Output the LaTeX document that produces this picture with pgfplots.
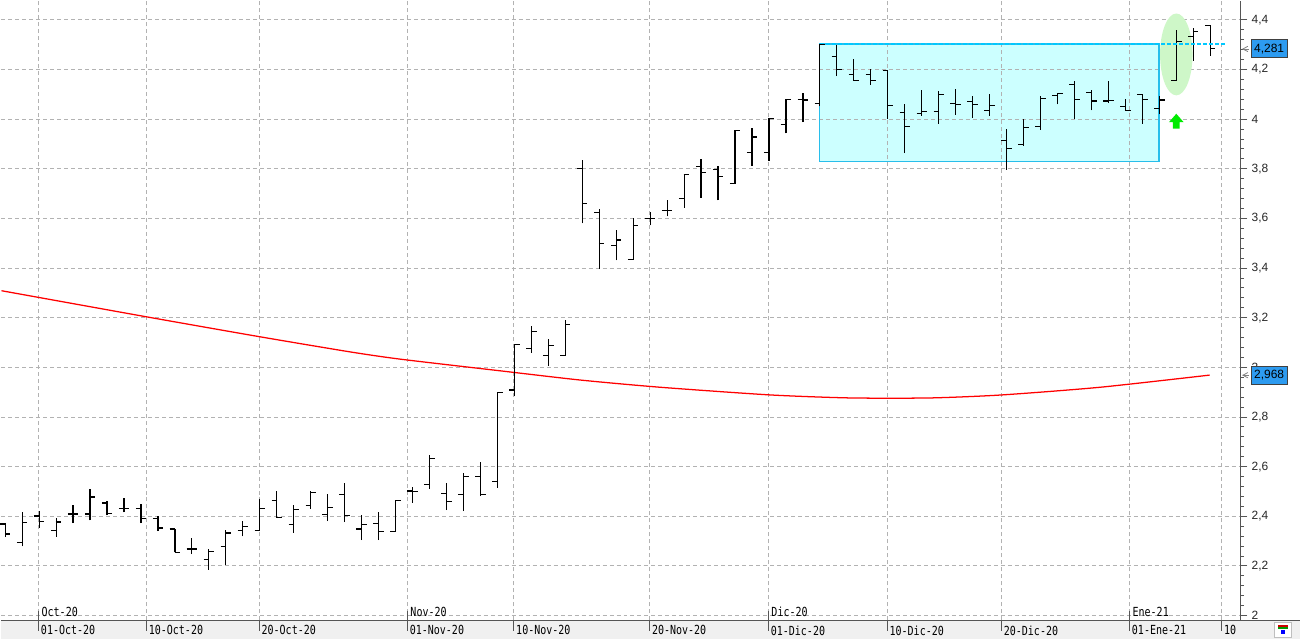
\documentclass[border=0pt]{standalone}
\usepackage{pgfplots}
\pgfplotsset{compat=1.18}
\usepackage{pgfplotstable}
\usepackage{fontspec}
\setmainfont{Liberation Sans}
\newfontfamily\lblfont[FakeStretch=0.8]{DejaVu Sans Mono}
\definecolor{gridc}{RGB}{178,178,178}
\definecolor{rectfill}{RGB}{204,255,255}
\definecolor{rectedge}{RGB}{40,190,235}
\definecolor{cyanline}{RGB}{0,200,255}
\definecolor{ellfill}{RGB}{206,247,200}
\definecolor{arrowgreen}{RGB}{0,235,0}
\definecolor{boxblue}{RGB}{45,155,240}
\definecolor{bandgray}{RGB}{240,240,240}
\definecolor{axisgray}{RGB}{85,85,85}
\pgfdeclareplotmark{otick}{\pgfpathmoveto{\pgfpoint{-3.9pt}{0pt}}\pgfpathlineto{\pgfpoint{0.3pt}{0pt}}\pgfusepathqstroke}
\pgfdeclareplotmark{ctick}{\pgfpathmoveto{\pgfpoint{-0.3pt}{0pt}}\pgfpathlineto{\pgfpoint{3.9pt}{0pt}}\pgfusepathqstroke}
\pgfplotstableread{
i O H L C
0 2.369 2.372 2.316 2.329
1 2.293 2.417 2.279 2.376
2 2.401 2.423 2.353 2.379
3 2.342 2.393 2.317 2.377
4 2.409 2.446 2.373 2.409
5 2.409 2.510 2.384 2.478
6 2.454 2.460 2.404 2.413
7 2.431 2.474 2.416 2.431
8 2.431 2.451 2.373 2.391
9 2.391 2.400 2.340 2.353
10 2.349 2.349 2.255 2.255
11 2.268 2.313 2.248 2.268
12 2.226 2.268 2.185 2.258
13 2.277 2.346 2.205 2.333
14 2.342 2.383 2.319 2.360
15 2.343 2.471 2.343 2.430
16 2.464 2.504 2.394 2.394
17 2.366 2.444 2.333 2.426
18 2.444 2.502 2.430 2.496
19 2.408 2.489 2.381 2.435
20 2.487 2.535 2.377 2.403
21 2.349 2.407 2.304 2.366
22 2.370 2.417 2.304 2.339
23 2.339 2.464 2.339 2.464
24 2.502 2.519 2.455 2.499
25 2.529 2.646 2.511 2.632
26 2.492 2.533 2.425 2.459
27 2.488 2.573 2.421 2.560
28 2.560 2.620 2.481 2.488
29 2.540 2.900 2.516 2.900
30 2.909 3.093 2.883 3.093
31 3.076 3.165 3.059 3.144
32 3.049 3.116 3.005 3.089
33 3.049 3.193 3.049 3.172
34 3.800 3.837 3.580 3.661
35 3.625 3.640 3.396 3.499
36 3.492 3.553 3.431 3.513
37 3.436 3.600 3.433 3.572
38 3.600 3.625 3.572 3.600
39 3.632 3.676 3.609 3.632
40 3.680 3.776 3.643 3.776
41 3.809 3.840 3.683 3.784
42 3.796 3.813 3.673 3.768
43 3.740 3.956 3.740 3.956
44 3.865 3.964 3.813 3.928
45 3.865 4.004 3.833 4.004
46 3.980 4.080 3.943 4.080
47 4.080 4.104 3.988 4.077
48 4.064 4.303 4.052 4.300
49 4.254 4.298 4.174 4.200
50 4.181 4.242 4.156 4.156
51 4.181 4.201 4.139 4.156
52 4.197 4.197 4.002 4.055
53 4.028 4.060 3.863 3.970
54 4.022 4.116 4.013 4.032
55 4.032 4.112 3.982 4.099
56 4.063 4.121 4.017 4.059
57 4.072 4.092 4.005 4.059
58 4.036 4.100 4.013 4.055
59 3.914 3.959 3.796 3.881
60 3.897 3.999 3.893 3.966
61 3.971 4.095 3.958 4.083
62 4.095 4.106 4.060 4.103
63 4.140 4.153 4.001 4.079
64 4.107 4.119 4.036 4.073
65 4.073 4.153 4.067 4.075
66 4.050 4.081 4.036 4.036
67 4.099 4.099 3.981 4.079
68 4.043 4.094 4.020 4.077
69 4.156 4.361 4.156 4.313
70 4.334 4.369 4.235 4.354
71 4.378 4.378 4.256 4.285
}\ohlc
\begin{document}
\begin{tikzpicture}[x=0.75pt,y=0.75pt]
\begin{axis}[
  set layers,
  clip=false,
  scale only axis,
  width=930.975pt, height=465.525pt,
  xmin=-0.2176, xmax=72.8, ymin=1.9811, ymax=4.4779,
  axis line style={draw=none},
  grid=major,
  major grid style={gridc, line width=0.75pt, dash pattern=on 3pt off 2.25pt},
  xtick={1.976,8.329,14.976,23.706,29.976,37.976,44.976,51.976,58.706,66.253,71.682},
  xticklabels={01-Oct-20,10-Oct-20,20-Oct-20,01-Nov-20,10-Nov-20,20-Nov-20,01-Dic-20,10-Dic-20,20-Dic-20,01-Ene-21,10},
  xtick pos=bottom,
  xtick style={draw=none},
  xticklabel style={font=\lblfont\fontsize{9.4pt}{10pt}\selectfont, anchor=north west, inner sep=0pt, xshift=1.5pt, yshift=1.25pt, text=black},
  ytick={2,2.2,2.4,2.6,2.8,3,3.2,3.4,3.6,3.8,4,4.2,4.4},
  minor y tick num=4,
  ytick pos=right, yticklabel pos=right,
  tick align=outside,
  major tick length=5pt, minor tick length=2.5pt,
  y tick style={axisgray, line width=0.75pt},
  minor y tick style={axisgray, line width=0.75pt},
  yticklabel style={/pgf/number format/use comma, /pgf/number format/fixed, /pgf/number format/assume math mode=true, font=\fontsize{9pt}{10pt}\selectfont, anchor=west, inner sep=0pt, xshift=3pt, text=black!85},
]
\begin{pgfonlayer}{axis background}
\fill[bandgray] ([yshift=-13.725pt]rel axis cs:0,0) rectangle ([xshift=44.775pt]rel axis cs:1,0);
\fill[rectfill] (axis cs:47.98,3.830) rectangle (axis cs:67.98,4.303);
\end{pgfonlayer}
\begin{pgfonlayer}{pre main}
\fill[ellfill] (axis cs:69.0,4.261) ellipse [x radius=12.2pt, y radius=30.75pt];
\end{pgfonlayer}
\draw[rectedge, line width=0.8pt] (axis cs:47.98,3.830) rectangle (axis cs:67.98,4.303);
% moving average
\addplot[red, line width=0.95pt, smooth, tension=0.4] coordinates {
(-0.218,3.309) (8.31,3.204) (14.96,3.124) (20.37,3.062) (23.31,3.033) (29.2,2.986) (33.9,2.949) (38.6,2.920) (45.1,2.889) (49.8,2.877) (54.5,2.877) (58.7,2.889) (64.5,2.920) (70.96,2.969)};
% OHLC bars: high-low range
\addplot[draw=none, mark=none, error bars/.cd, y dir=plus, y explicit, error mark=none, error bar style={draw=black, solid, line width=0.9pt}]
  table[x=i, y=L, y error expr=\thisrow{H}-\thisrow{L}] {\ohlc};
% open and close ticks
\addplot[black, only marks, mark=otick, mark options={black, solid, line width=0.9pt}] table[x=i, y=O] {\ohlc};
\addplot[black, only marks, mark=ctick, mark options={black, solid, line width=0.9pt}] table[x=i, y=C] {\ohlc};
% resistance line
\draw[cyanline, line width=1.5pt, dash pattern=on 3pt off 1.5pt] (axis cs:47.98,4.303) -- (axis cs:71.84,4.303);
% green arrow
\fill[arrowgreen] ([xshift=-5.5pt]axis cs:69,3.988) -- (axis cs:69,4.022) -- ([xshift=5.5pt]axis cs:69,3.988) -- ([xshift=2.5pt]axis cs:69,3.988) -- ([xshift=2.5pt]axis cs:69,3.962) -- ([xshift=-2.5pt]axis cs:69,3.962) -- ([xshift=-2.5pt]axis cs:69,3.988) -- cycle;
% axis lines
\draw[axisgray, line width=0.9pt] (rel axis cs:0,0) -- ([xshift=44.775pt]rel axis cs:1,0);
\draw[axisgray, line width=0.9pt] (rel axis cs:1,0) -- (rel axis cs:1,1);
% bottom ticks
\pgfplotsinvokeforeach{1.976,8.329,14.976,23.706,29.976,37.976,44.976,51.976,58.706,66.253,71.682}{
  \draw[axisgray, line width=0.75pt] (axis cs:#1,1.9811) -- ([yshift=-7.7pt]axis cs:#1,1.9811);
}
% month labels
\draw[axisgray, line width=0.75pt] (axis cs:1.976,1.9811) -- ([yshift=7.3pt]axis cs:1.976,1.9811);
\node[font=\lblfont\fontsize{9.4pt}{10pt}\selectfont, anchor=base west, inner sep=0pt] at ([xshift=2pt,yshift=3pt]axis cs:1.976,1.9811) {Oct-20};
\draw[axisgray, line width=0.75pt] (axis cs:23.706,1.9811) -- ([yshift=7.3pt]axis cs:23.706,1.9811);
\node[font=\lblfont\fontsize{9.4pt}{10pt}\selectfont, anchor=base west, inner sep=0pt] at ([xshift=2pt,yshift=3pt]axis cs:23.706,1.9811) {Nov-20};
\draw[axisgray, line width=0.75pt] (axis cs:44.976,1.9811) -- ([yshift=7.3pt]axis cs:44.976,1.9811);
\node[font=\lblfont\fontsize{9.4pt}{10pt}\selectfont, anchor=base west, inner sep=0pt] at ([xshift=2pt,yshift=3pt]axis cs:44.976,1.9811) {Dic-20};
\draw[axisgray, line width=0.75pt] (axis cs:66.253,1.9811) -- ([yshift=7.3pt]axis cs:66.253,1.9811);
\node[font=\lblfont\fontsize{9.4pt}{10pt}\selectfont, anchor=base west, inner sep=0pt] at ([xshift=2pt,yshift=3pt]axis cs:66.253,1.9811) {Ene-21};
% value boxes
\node[anchor=west, fill=boxblue, draw=black!75, line width=0.75pt, inner sep=0pt, minimum width=27.2pt, minimum height=13.5pt, font=\fontsize{9pt}{10pt}\selectfont] at ([xshift=7.3pt]axis cs:72.8,4.283) {4,281};
\node[anchor=west, fill=boxblue, draw=black!75, line width=0.75pt, inner sep=0pt, minimum width=27.2pt, minimum height=13.5pt, font=\fontsize{9pt}{10pt}\selectfont] at ([xshift=7.3pt]axis cs:72.8,2.9686) {2,968};
\draw[gray, line width=0.6pt] ([xshift=5.3pt,yshift=2pt]axis cs:72.8,4.283) -- ([xshift=1.6pt]axis cs:72.8,4.283) -- ([xshift=5.3pt,yshift=-2pt]axis cs:72.8,4.283);
\draw[gray, line width=0.6pt] ([xshift=1.6pt]axis cs:72.8,4.283) -- ([xshift=6.5pt]axis cs:72.8,4.283);
\draw[gray, line width=0.6pt] ([xshift=5.3pt,yshift=2pt]axis cs:72.8,2.9686) -- ([xshift=1.6pt]axis cs:72.8,2.9686) -- ([xshift=5.3pt,yshift=-2pt]axis cs:72.8,2.9686);
\draw[gray, line width=0.6pt] ([xshift=1.6pt]axis cs:72.8,2.9686) -- ([xshift=6.5pt]axis cs:72.8,2.9686);
% bottom-right icon
\draw[black!25, fill=white] ([xshift=25.5pt,yshift=-12.4pt]rel axis cs:1,0) rectangle ([xshift=38pt,yshift=-1.1pt]rel axis cs:1,0);
\fill[red!80!black] ([xshift=27.7pt,yshift=-5.2pt]rel axis cs:1,0) rectangle ([xshift=35.8pt,yshift=-3.8pt]rel axis cs:1,0);
\fill[green!60!black] ([xshift=27.7pt,yshift=-6.6pt]rel axis cs:1,0) rectangle ([xshift=35.8pt,yshift=-5.2pt]rel axis cs:1,0);
\fill[blue] ([xshift=30.3pt,yshift=-10.4pt]rel axis cs:1,0) rectangle ([xshift=33.3pt,yshift=-7.4pt]rel axis cs:1,0);
\end{axis}
\end{tikzpicture}
\end{document}
